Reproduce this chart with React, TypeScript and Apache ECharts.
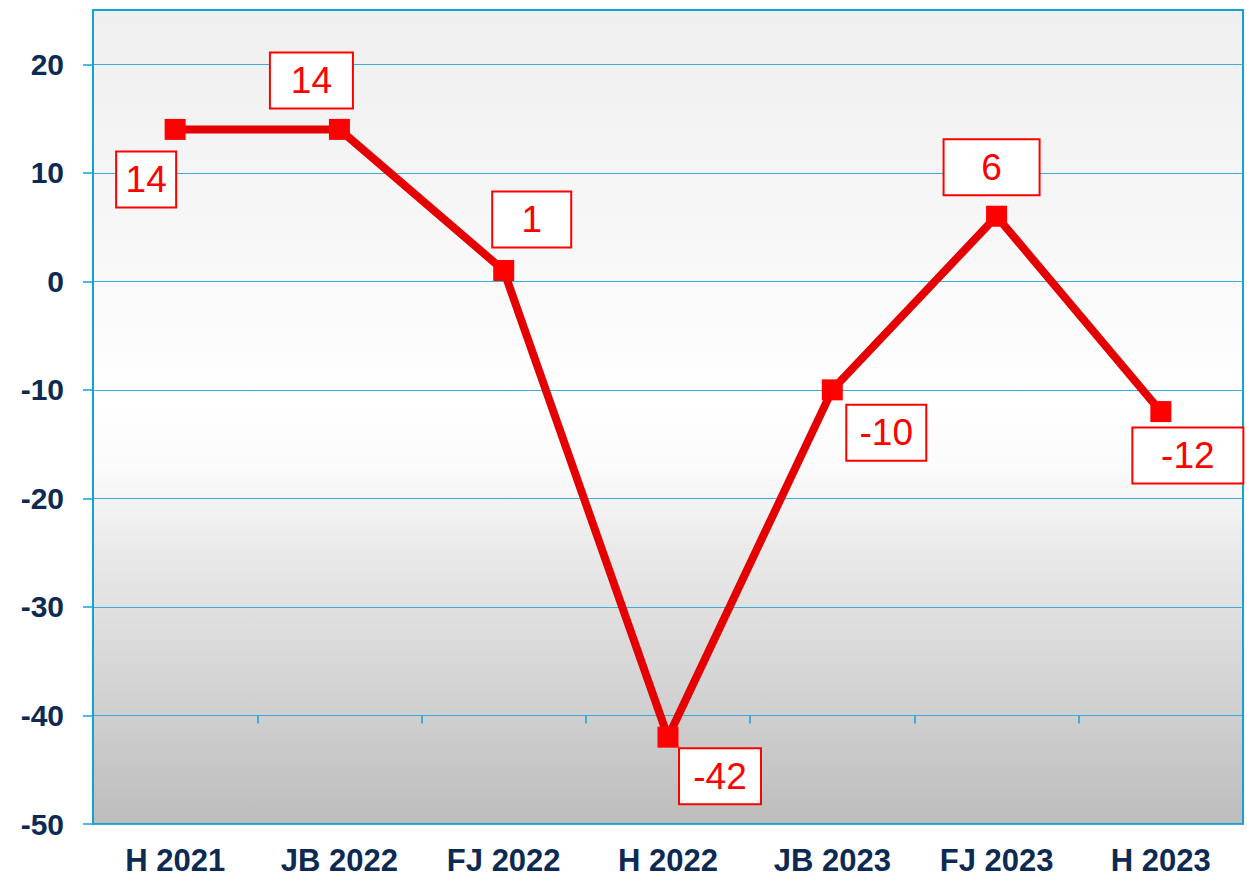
import React, { useEffect, useRef } from "react";
import * as echarts from "echarts";

const categories = ["H 2021", "JB 2022", "FJ 2022", "H 2022", "JB 2023", "FJ 2023", "H 2023"];
const values = [14, 14, 1, -42, -10, 6, -12];
const yTicks = [-50, -40, -30, -20, -10, 0, 10, 20];

// label box placement (style only): [dx, dy, boxWidth]
const labelBoxes: [number, number, number][] = [
  [-29, 50, 58],
  [-28, -49, 81],
  [28, -51, 77],
  [52, 39, 80],
  [54, 43, 78],
  [-5, -49, 94],
  [27, 44, 109],
];

export default function App() {
  const ref = useRef<HTMLDivElement>(null);
  useEffect(() => {
    if (!ref.current) return;
    const chart = echarts.init(ref.current, null, { renderer: "svg" });
    const axisColor = "#12a2d8";
    const gridColor = "#3aaed8";
    const labelColor = "#0c2a52";
    chart.setOption({
      animation: false,
      grid: {
        left: 93,
        right: 4,
        top: 10,
        bottom: 53,
        show: true,
        borderColor: axisColor,
        borderWidth: 2,
        backgroundColor: {
          type: "linear",
          x: 0,
          y: 0,
          x2: 0,
          y2: 1,
          colorStops: [
            { offset: 0, color: "#efefef" },
            { offset: 0.3, color: "#f8f8f8" },
            { offset: 0.48, color: "#ffffff" },
            { offset: 0.56, color: "#fbfbfb" },
            { offset: 0.66, color: "#eaeaea" },
            { offset: 1, color: "#bdbdbd" },
          ],
        },
      },
      xAxis: [
        {
          type: "category",
          data: categories,
          boundaryGap: true,
          axisLine: { show: false },
          axisTick: { show: false },
          axisLabel: {
            color: labelColor,
            fontSize: 31,
            fontWeight: "bold",
            fontFamily: "'Liberation Sans', Arial, sans-serif",
            margin: 21,
            interval: 0,
          },
          splitLine: { show: false },
        },
        {
          type: "category",
          data: categories,
          position: "bottom",
          offset: -108.5,
          boundaryGap: true,
          axisLine: { show: false },
          axisTick: { show: true, length: 8, lineStyle: { color: axisColor, width: 1.5 } },
          axisLabel: { show: false },
          splitLine: { show: false },
        },
      ],
      yAxis: {
        type: "value",
        min: -50,
        max: 25,
        interval: 10,
        axisLine: { show: true, lineStyle: { color: axisColor, width: 2 } },
        axisTick: {
          show: true,
          length: 10,
          lineStyle: { color: axisColor, width: 1.5 },
          customValues: yTicks,
        },
        axisLabel: {
          color: labelColor,
          fontSize: 30,
          fontWeight: "bold",
          fontFamily: "'Liberation Sans', Arial, sans-serif",
          margin: 29,
          customValues: yTicks,
        },
        splitLine: { show: true, lineStyle: { color: gridColor, width: 1 } },
      },
      series: [
        {
          type: "line",
          data: values.map((v, i) => ({
            value: v,
            label: {
              offset: [labelBoxes[i][0], labelBoxes[i][1]],
              width: labelBoxes[i][2],
            },
          })),
          symbol: "rect",
          symbolSize: 21,
          itemStyle: { color: "#ff0000" },
          lineStyle: { color: "#e40000", width: 8 },
          label: {
            show: true,
            position: "inside",
            color: "#ff0000",
            fontSize: 37,
            fontFamily: "'Liberation Sans Narrow', 'Liberation Sans', Arial, sans-serif",
            backgroundColor: "#ffffff",
            borderColor: "#ff0000",
            borderWidth: 2,
            height: 54,
            lineHeight: 54,
            align: "center",
            verticalAlign: "middle",
          },
          z: 3,
        },
      ],
    });
    return () => chart.dispose();
  }, []);
  return <div ref={ref} style={{ width: 1247, height: 877, position: "absolute", left: 0, top: 0 }} />;
}
